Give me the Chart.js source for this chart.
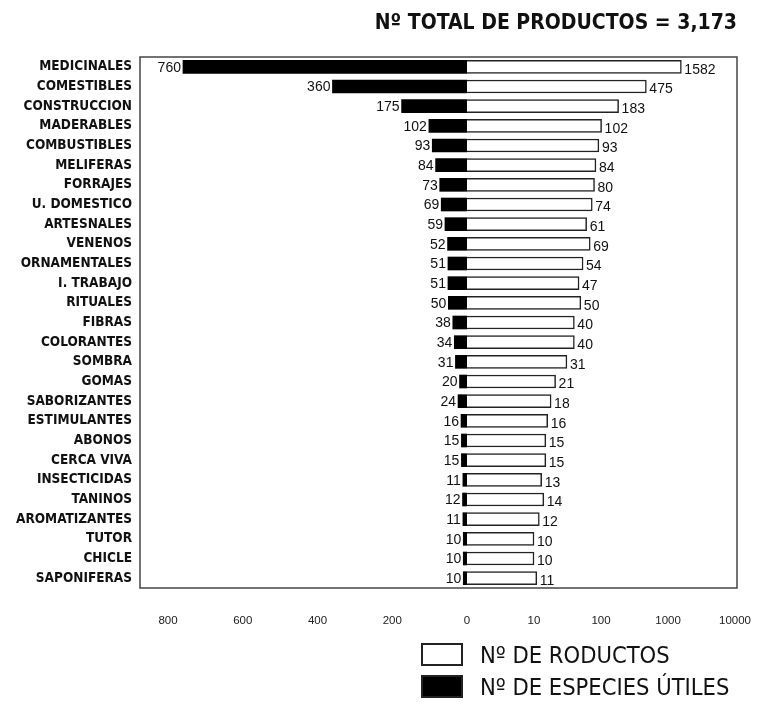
<!DOCTYPE html>
<html>
<head>
<meta charset="utf-8">
<script src="https://cdn.jsdelivr.net/npm/chart.js@4.4.0/dist/chart.umd.min.js"></script>
<style>
  body { margin: 0; background: #fff; }
  #wrap { position: relative; width: 758px; height: 711px; }
  #c { position: absolute; left: 0; top: 0; }
  #title {
    position: absolute; right: 21px; top: 10px;
    font: bold 21px "DejaVu Sans Condensed", "Liberation Sans Narrow", sans-serif;
    color: #111; white-space: nowrap;
  }
  .leg-box { position: absolute; left: 421px; width: 38px; height: 19px; border: 2px solid #222; }
  .leg-txt {
    position: absolute; left: 480px; white-space: nowrap; color: #111;
    font: 23.5px "Liberation Sans Narrow", "DejaVu Sans Condensed", sans-serif;
  }
</style>
</head>
<body>
<div id="wrap">
  <canvas id="c" width="758" height="711"></canvas>
  <div id="title">Nº TOTAL DE PRODUCTOS = 3,173</div>
  <div class="leg-box" style="top:643px;background:#fff;"></div>
  <div class="leg-txt" style="top:641px;">Nº DE RODUCTOS</div>
  <div class="leg-box" style="top:675px;background:#000;"></div>
  <div class="leg-txt" style="top:673px;">Nº DE ESPECIES ÚTILES</div>
</div>
<script>
const categories = [
  'MEDICINALES', 'COMESTIBLES', 'CONSTRUCCION', 'MADERABLES', 'COMBUSTIBLES',
  'MELIFERAS', 'FORRAJES', 'U. DOMESTICO', 'ARTESNALES', 'VENENOS',
  'ORNAMENTALES', 'I. TRABAJO', 'RITUALES', 'FIBRAS', 'COLORANTES',
  'SOMBRA', 'GOMAS', 'SABORIZANTES', 'ESTIMULANTES', 'ABONOS',
  'CERCA VIVA', 'INSECTICIDAS', 'TANINOS', 'AROMATIZANTES', 'TUTOR',
  'CHICLE', 'SAPONIFERAS'
];
// black bars, left side (linear)
const species = [760, 360, 175, 102, 93, 84, 73, 69, 59, 52, 51, 51, 50, 38, 34, 31, 20, 24, 16, 15, 15, 11, 12, 11, 10, 10, 10];
// white bars, right side (log)
const products = [1582, 475, 183, 102, 93, 84, 80, 74, 61, 69, 54, 47, 50, 40, 40, 31, 21, 18, 16, 15, 15, 13, 14, 12, 10, 10, 11];

const leftTicks = [800, 600, 400, 200, 0];
const rightTicks = [10, 100, 1000, 10000];

const tickFont = { family: 'Liberation Sans, Arial, sans-serif', size: 11.5 };

// value labels next to the bar ends
const valueLabels = {
  id: 'valueLabels',
  afterDatasetsDraw(chart) {
    const ctx = chart.ctx;
    ctx.save();
    ctx.font = '14px "Liberation Sans", Arial, sans-serif';
    ctx.fillStyle = '#111';
    ctx.textBaseline = 'middle';
    chart.data.datasets.forEach((ds, i) => {
      const meta = chart.getDatasetMeta(i);
      meta.data.forEach((bar, j) => {
        if (i === 0) {
          ctx.textAlign = 'right';
          ctx.fillText(ds.data[j], bar.x - 2, bar.y + 1);
        } else {
          ctx.textAlign = 'left';
          ctx.fillText(ds.data[j], bar.x + 3, bar.y + 3);
        }
      });
    });
    ctx.restore();
  }
};

// box round the plot
const frame = {
  id: 'frame',
  afterDraw(chart) {
    const { ctx, chartArea: a } = chart;
    ctx.save();
    ctx.strokeStyle = '#444';
    ctx.lineWidth = 1.5;
    ctx.strokeRect(a.left, a.top, a.right - a.left, a.bottom - a.top);
    ctx.restore();
  }
};

function fixX(s) {
  s.height = 50;
  s.paddingLeft = 0;
  s.paddingRight = 0;
}

new Chart(document.getElementById('c'), {
  type: 'bar',
  data: {
    labels: categories,
    datasets: [
      {
        label: 'Nº DE ESPECIES ÚTILES',
        data: species,
        xAxisID: 'xL',
        backgroundColor: '#000',
        borderWidth: 0,
        grouped: false,
        barThickness: 13
      },
      {
        label: 'Nº DE RODUCTOS',
        data: products,
        xAxisID: 'xR',
        base: 1,
        backgroundColor: '#fff',
        borderColor: '#222',
        borderWidth: 1.5,
        grouped: false,
        barThickness: 13
      }
    ]
  },
  options: {
    indexAxis: 'y',
    responsive: false,
    animation: false,
    devicePixelRatio: 1,
    layout: { padding: { left: 0, right: 21, top: 57, bottom: 73 } },
    plugins: {
      legend: { display: false },
      tooltip: { enabled: false }
    },
    scales: {
      y: {
        type: 'category',
        offset: true,
        grid: { display: false, drawTicks: false },
        border: { display: false },
        ticks: {
          autoSkip: false,
          padding: 8,
          color: '#111',
          font: { family: '"DejaVu Sans Condensed", "Liberation Sans Narrow", sans-serif', size: 13.5, weight: 'bold' }
        },
        afterFit(s) { s.width = 140; }
      },
      xL: {
        type: 'linear',
        position: 'bottom',
        stack: 'x',
        stackWeight: 327,
        reverse: true,
        min: 0,
        max: 875,
        grid: { display: false, drawTicks: false },
        border: { display: false },
        ticks: { padding: 26, color: '#222', font: tickFont, maxRotation: 0, autoSkip: false },
        afterBuildTicks(s) { s.ticks = leftTicks.map(v => ({ value: v })); },
        afterFit: fixX
      },
      xR: {
        type: 'logarithmic',
        position: 'bottom',
        stack: 'x',
        stackWeight: 270,
        min: 1,
        max: 10700,
        grid: { display: false, drawTicks: false },
        border: { display: false },
        ticks: {
          padding: 26, color: '#222', font: tickFont, maxRotation: 0, autoSkip: false,
          callback: v => String(v)
        },
        afterBuildTicks(s) { s.ticks = rightTicks.map(v => ({ value: v })); },
        afterFit: fixX
      }
    }
  },
  plugins: [valueLabels, frame]
});
</script>
</body>
</html>
